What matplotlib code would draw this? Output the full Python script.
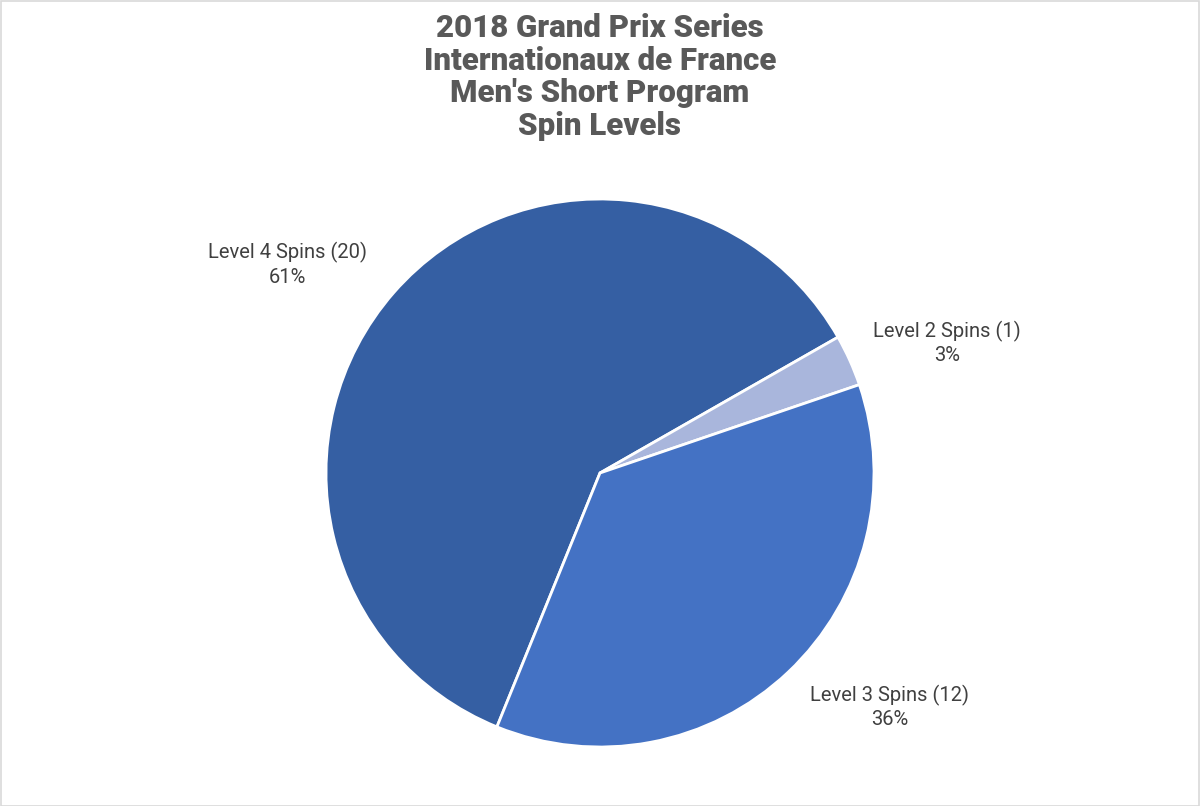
import matplotlib
matplotlib.use("Agg")
import matplotlib.pyplot as plt
from matplotlib.patches import Rectangle

# Data
categories = ["Level 4 Spins", "Level 2 Spins", "Level 3 Spins"]
counts = [20, 1, 12]
colors = ["#355FA3", "#A9B6DC", "#4472C4"]
title_lines = ["2018 Grand Prix Series", "Internationaux de France",
               "Men's Short Program", "Spin Levels"]

# label positions (layout, in pie data coords)
label_pos = [(-1.139, 0.761), (1.266, 0.474), (1.058, -0.854)]

W, H = 1200, 806
fig = plt.figure(figsize=(W / 100, H / 100), dpi=100)
fig.patch.set_facecolor("white")

cx, cy, r = 600, 473, 274
ax = fig.add_axes([(cx - r) / W, (H - cy - r) / H, 2 * r / W, 2 * r / H])
total = sum(counts)
ax.pie(counts, colors=colors, startangle=247.9, counterclock=False, radius=1,
       wedgeprops=dict(edgecolor="white", linewidth=2))
ax.set_xlim(-1, 1)
ax.set_ylim(-1, 1)
ax.set_aspect("auto")
ax.axis("off")

for cat, n, (x, y) in zip(categories, counts, label_pos):
    pct = round(100 * n / total)
    ax.text(x, y, f"{cat} ({n})\n{pct}%", ha="center", va="center",
            fontsize=14.5, color="#404040", family="Roboto",
            linespacing=1.3, clip_on=False)

fig.text(0.5, 1 - 77 / H, "\n".join(title_lines), ha="center", va="center",
         fontsize=22.5, fontweight="black", color="#595959", family="Roboto",
         linespacing=1.11)

fig.patches.append(Rectangle((0.5 / W, 0.5 / H), 1 - 1.5 / W, 1 - 1.5 / H,
                             transform=fig.transFigure, fill=False,
                             edgecolor="#D9D9D9", linewidth=1.2))

fig.savefig("out.png", dpi=100, facecolor="white")
